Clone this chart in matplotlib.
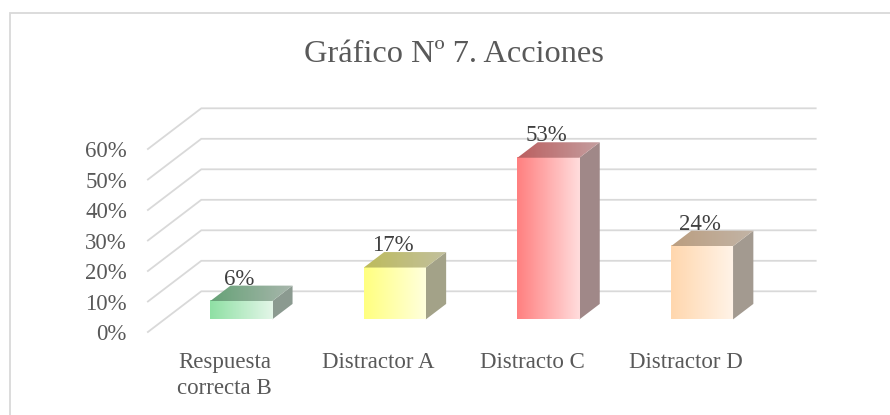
import numpy as np
import matplotlib.pyplot as plt
from matplotlib.colors import LinearSegmentedColormap
from matplotlib.patches import Polygon, Rectangle

categories = ['Respuesta\ncorrecta B', 'Distractor A', 'Distracto C', 'Distractor D']
values = [6, 17, 53, 24]
y_ticks = [0, 10, 20, 30, 40, 50, 60]
front_left = ['#8fe0a4', '#ffff80', '#ff8080', '#ffd7ae']
front_right = ['#e3f6e8', '#ffffdc', '#ffdcdc', '#fff3e7']
top_left = ['#66a277', '#bdbb5c', '#bb5f60', '#bb9e80']
top_right = ['#a8b6ac', '#c2c09e', '#c49e9f', '#c2b4a6']
side_colors = ['#8b9a90', '#a3a288', '#a08888', '#a39a90']

plt.rcParams['font.family'] = ['Liberation Serif', 'DejaVu Serif']

W, H = 890, 415
px_x = 153.6   # pixeles por categoria
px_y = 3.05    # pixeles por 1%
x0, y0 = 224.7, 332  # categoria 0, valor 0
depth_x = 53.4 / px_x
depth_y = 40.7 / px_y
bar_w = 62 / px_x
bar_t = (0.31, 0.69)
floor_left = -0.5
floor_right = 3.5
text_color = '#595959'


def proj(x, y, t=0):
    return x + depth_x * t, y + depth_y * t


fig = plt.figure(figsize=(W / 100, H / 100), dpi=100)
ax = fig.add_axes([0, 0, 1, 1])
ax.axis('off')

# marco del grafico, solo se ven el borde izquierdo y el superior
ax.add_patch(Rectangle((10 / W, -0.1), 1.1, 1.1 - 13 / H, transform=ax.transAxes,
                       fc='white', ec='#d9d9d9', lw=1.3, zorder=0))

# lineas de la cuadricula, piso y pared
for v in y_ticks:
    xa, ya = proj(floor_left, v, 0)
    xb, yb = proj(floor_left, v, 1)
    xc, yc = proj(floor_right, v, 1)
    ax.plot([xa, xb, xc], [ya, yb, yc], color='#d9d9d9', lw=1.3, zorder=1)
    ax.text(xa - 21 / px_x, v, f'{v}%', ha='right', va='center_baseline', fontsize=16.5,
            color=text_color, zorder=5)

for i, v in enumerate(values):
    left = i - bar_w / 2
    right = i + bar_w / 2
    t0, t1 = bar_t

    # cara lateral
    ax.add_patch(Polygon([proj(right, 0, t0), proj(right, 0, t1),
                          proj(right, v, t1), proj(right, v, t0)],
                         fc=side_colors[i], ec='none', zorder=2))

    # cara frontal con degradado
    x_a, y_a = proj(left, 0, t0)
    x_b, y_b = proj(right, v, t0)
    cmap = LinearSegmentedColormap.from_list('f', [front_left[i], front_right[i]])
    ax.imshow(np.linspace(0, 1, 64).reshape(1, -1), cmap=cmap, aspect='auto',
              extent=(x_a, x_b, y_a, y_b), zorder=3)

    # cara superior con degradado
    top = Polygon([proj(left, v, t0), proj(right, v, t0),
                   proj(right, v, t1), proj(left, v, t1)],
                  fc='none', ec='none', zorder=3)
    ax.add_patch(top)
    x_c, y_c = proj(left, v, t0)
    x_d, y_d = proj(right, v, t1)
    cmap = LinearSegmentedColormap.from_list('t', [top_left[i], top_right[i]])
    im = ax.imshow(np.linspace(0, 1, 64).reshape(1, -1), cmap=cmap, aspect='auto',
                   extent=(x_c, x_d, y_c, y_d), zorder=3)
    im.set_clip_path(top)

    lx = proj(i, v, t0)[0] - 2 / px_x
    ly = proj(i, v, t1)[1] + 1 / px_y
    ax.text(lx, ly, f'{v}%', ha='center', va='baseline', fontsize=16.5,
            color='#404040', zorder=6)

    ax.text(i, -6.5, categories[i], ha='center', va='top', fontsize=16.5,
            color=text_color, linespacing=1.33, zorder=5)

ax.set_xlim(-x0 / px_x, (W - x0) / px_x)
ax.set_ylim(-(H - y0) / px_y, y0 / px_y)

fig.text(454 / W, 1 - 55 / H, 'Gráfico Nº 7. Acciones', ha='center', va='center',
         fontsize=23.3, color=text_color)

fig.savefig('out.png', dpi=100)
